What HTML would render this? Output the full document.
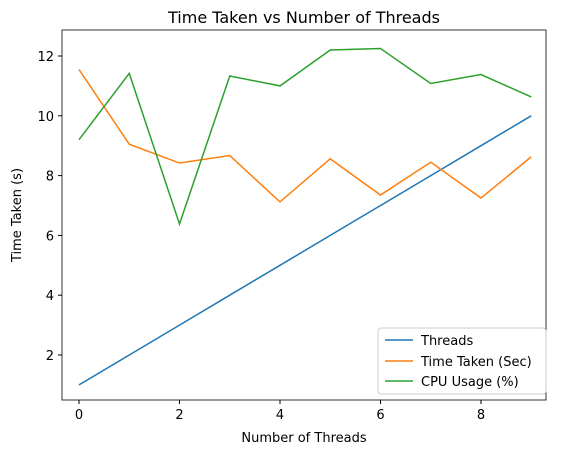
<!DOCTYPE html>
<html><head><meta charset="utf-8">
<style>
body{margin:0;background:#fff;}
svg{display:block;font-family:"DejaVu Sans","Liberation Sans",sans-serif;}
</style></head>
<body>
<svg id="chart" width="562" height="455" viewBox="0 0 562 455">
<text x="304" y="23" text-anchor="middle" font-size="16" fill="#000">Time Taken vs Number of Threads</text>
<text x="304" y="442" text-anchor="middle" font-size="13">Number of Threads</text>
<text transform="translate(21,215) rotate(-90)" text-anchor="middle" font-size="13">Time Taken (s)</text>
<g id="ticks"></g>
<g id="series"></g>
<rect x="62" y="30" width="484" height="370" fill="none" stroke="#000" stroke-width="0.8"/>
<g>
<rect x="378" y="328" width="168" height="66" rx="3" fill="#fff" fill-opacity="0.8" stroke="#ccc"/>
<line x1="385" y1="340" x2="413" y2="340" stroke="#1f77b4" stroke-width="1.5"/>
<text x="421" y="345" font-size="13">Threads</text>
<line x1="385" y1="361" x2="413" y2="361" stroke="#ff7f0e" stroke-width="1.5"/>
<text x="421" y="366" font-size="13">Time Taken (Sec)</text>
<line x1="385" y1="381" x2="413" y2="381" stroke="#2ca02c" stroke-width="1.5"/>
<text x="421" y="386" font-size="13">CPU Usage (%)</text>
</g>
</svg>
<script>
const xValues=[0,1,2,3,4,5,6,7,8,9];
const threads=[1,2,3,4,5,6,7,8,9,10];
const timeTaken=[11.55,9.05,8.42,8.67,7.12,8.56,7.35,8.45,7.25,8.63];
const cpuUsage=[9.2,11.42,6.38,11.33,11.0,12.2,12.25,11.08,11.38,10.63];
const xTicks=[0,2,4,6,8];
const yTicks=[2,4,6,8,10,12];
const NS="http://www.w3.org/2000/svg";
function xs(v){return 79+v*50.25;}
function ys(v){return 355-(v-2)*29.9;}
const tg=document.getElementById('ticks');
xTicks.forEach(t=>{
 const l=document.createElementNS(NS,'line');
 l.setAttribute('x1',xs(t));l.setAttribute('x2',xs(t));l.setAttribute('y1',400);l.setAttribute('y2',404);l.setAttribute('stroke','#000');
 
 
 tg.appendChild(l);
 const tx=document.createElementNS(NS,'text');
 tx.setAttribute('x',xs(t));tx.setAttribute('y',419);tx.setAttribute('text-anchor','middle');tx.setAttribute('font-size','13');tx.textContent=t;
 
 
 tg.appendChild(tx);
});
yTicks.forEach(t=>{
 const l=document.createElementNS(NS,'line');
 l.setAttribute('x1',58);l.setAttribute('x2',62);l.setAttribute('y1',ys(t));l.setAttribute('y2',ys(t));l.setAttribute('stroke','#000');
 
 
 tg.appendChild(l);
 const tx=document.createElementNS(NS,'text');
 tx.setAttribute('x',54);tx.setAttribute('y',ys(t)+5);tx.setAttribute('text-anchor','end');tx.setAttribute('font-size','13');tx.textContent=t;
 
 
 tg.appendChild(tx);
});
const sg=document.getElementById('series');
[[threads,'#1f77b4','threads-line'],[timeTaken,'#ff7f0e','time-taken-line'],[cpuUsage,'#2ca02c','cpu-usage-line']].forEach(([d,c,n])=>{
 const p=document.createElementNS(NS,'polyline');
 p.setAttribute('points',d.map((v,i)=>xs(xValues[i])+','+ys(v)).join(' '));
 p.setAttribute('fill','none');p.setAttribute('stroke',c);p.setAttribute('stroke-width','1.5');
 
 
 sg.appendChild(p);
});
</script>
</body></html>
